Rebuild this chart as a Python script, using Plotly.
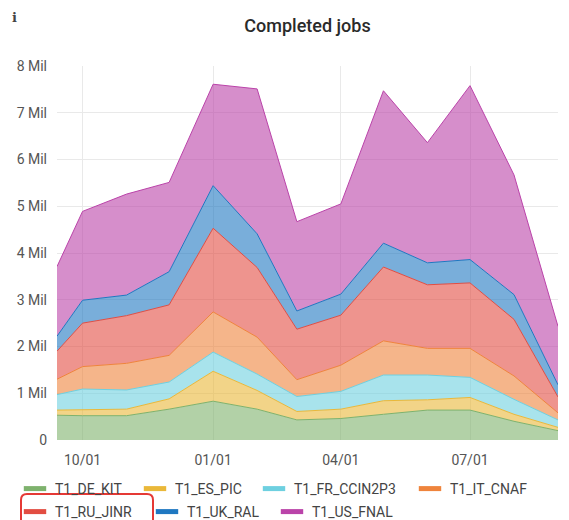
import plotly.graph_objects as go

dates = ["2022-09-13", "2022-10-01", "2022-11-01", "2022-12-01", "2023-01-01",
         "2023-02-01", "2023-03-01", "2023-04-01", "2023-05-01", "2023-06-01",
         "2023-07-01", "2023-08-01", "2023-09-01"]

t1_de_kit = [0.53, 0.52, 0.52, 0.66, 0.83, 0.66, 0.43, 0.46, 0.55, 0.64, 0.64, 0.40, 0.20]
t1_es_pic = [0.11, 0.13, 0.14, 0.22, 0.64, 0.40, 0.18, 0.20, 0.29, 0.22, 0.27, 0.15, 0.07]
t1_fr_ccin2p3 = [0.33, 0.44, 0.41, 0.36, 0.41, 0.35, 0.32, 0.38, 0.55, 0.53, 0.43, 0.32, 0.16]
t1_it_cnaf = [0.33, 0.48, 0.57, 0.57, 0.86, 0.79, 0.36, 0.56, 0.73, 0.57, 0.62, 0.50, 0.15]
t1_ru_jinr = [0.60, 0.93, 1.02, 1.08, 1.79, 1.49, 1.08, 1.07, 1.58, 1.36, 1.40, 1.21, 0.34]
t1_uk_ral = [0.32, 0.49, 0.44, 0.71, 0.91, 0.72, 0.39, 0.45, 0.51, 0.47, 0.50, 0.53, 0.26]
t1_us_fnal = [1.49, 1.90, 2.16, 1.91, 2.17, 3.10, 1.91, 1.93, 3.26, 2.57, 3.72, 2.56, 1.25]

series_names = ["T1_DE_KIT", "T1_ES_PIC", "T1_FR_CCIN2P3", "T1_IT_CNAF",
                "T1_RU_JINR", "T1_UK_RAL", "T1_US_FNAL"]
series_values = [t1_de_kit, t1_es_pic, t1_fr_ccin2p3, t1_it_cnaf,
                 t1_ru_jinr, t1_uk_ral, t1_us_fnal]
colors = ["#7EB26D", "#EAB839", "#6ED0E0", "#EF843C", "#E24D42", "#1F78C1", "#BA43A9"]

y_tick_vals = [0, 1, 2, 3, 4, 5, 6, 7, 8]
y_tick_text = ["0", "1 Mil", "2 Mil", "3 Mil", "4 Mil", "5 Mil", "6 Mil", "7 Mil", "8 Mil"]
x_tick_vals = ["2022-10-01", "2023-01-01", "2023-04-01", "2023-07-01"]
x_tick_text = ["10/01", "01/01", "04/01", "07/01"]

# Screen geometry (page pixels) of the plot area
PL, PR, PT, PB = 57, 558, 66, 440
PW, PH = PR - PL, PB - PT


def px_x(px):
    return (px - PL) / PW


def px_y(py):
    return (PB - py) / PH


def rgba(hex_color, a):
    h = hex_color.lstrip("#")
    r, g, b = int(h[0:2], 16), int(h[2:4], 16), int(h[4:6], 16)
    return f"rgba({r},{g},{b},{a})"


# legend item placement (text start x, row center y) in page pixels
legend_text_x = [53, 173, 292, 448, 53, 185, 310]
legend_row_y = [489, 489, 489, 489, 512, 512, 512]

fig = go.Figure()
for name, vals, col in zip(series_names, series_values, colors):
    fig.add_trace(go.Scatter(
        x=dates, y=[v * 1e6 for v in vals], name=name,
        mode="lines", stackgroup="one",
        line=dict(color=col, width=1),
        fillcolor=rgba(col, 0.6),
        showlegend=False, hoverinfo="skip",
    ))

legend_layouts = {}
for i, (name, col) in enumerate(zip(series_names, colors)):
    lname = "legend" if i == 0 else f"legend{i + 1}"
    fig.add_trace(go.Scatter(
        x=[None], y=[None], name=name, mode="markers",
        marker=dict(symbol="line-ew", size=18, color=col,
                    line=dict(color=col, width=5)),
        showlegend=True, legend=lname,
    ))
    legend_layouts[lname] = dict(
        orientation="h", x=px_x(legend_text_x[i] - 38), xanchor="left",
        y=px_y(legend_row_y[i]), yanchor="middle",
        itemwidth=30, bgcolor="rgba(0,0,0,0)",
        font=dict(family="Roboto", size=14, color="#444444"),
    )

# body has an 8px default margin: the figure is drawn at page offset (8, 8)
OFF = 8
FW, FH = 569 - OFF, 520 - OFF
fig.update_layout(
    width=FW, height=FH,
    margin=dict(l=PL - OFF, r=FW - (PR - OFF), t=PT - OFF, b=FH - (PB - OFF), autoexpand=False),
    paper_bgcolor="white", plot_bgcolor="white",
    font=dict(family="Roboto", size=14, color="#555555"),
    title=dict(text="Completed jobs", x=(307.5 - OFF) / FW, xanchor="center",
               y=1 - (26 - OFF) / FH, yanchor="middle",
               font=dict(family="Roboto", size=18, color="#2a2a2a", weight=500)),
    xaxis=dict(range=[dates[0], dates[-1]], tickvals=x_tick_vals, ticktext=x_tick_text,
               showgrid=True, gridcolor="#e9e9e9", gridwidth=1, zeroline=False,
               showline=False, ticks="", automargin=False, ticklabelstandoff=10,
               tickfont=dict(size=14, color="#555555")),
    yaxis=dict(range=[0, 8e6], tickvals=[v * 1e6 for v in y_tick_vals], ticktext=y_tick_text,
               showgrid=True, gridcolor="#e9e9e9", gridwidth=1, zeroline=False,
               showline=False, ticks="", ticklabelstandoff=9, automargin=False,
               tickfont=dict(size=14, color="#555555")),
    showlegend=True,
    **legend_layouts,
)

fig.add_annotation(text="<b>i</b>", xref="paper", yref="paper", x=px_x(14), y=px_y(18),
                   xanchor="center", yanchor="middle", showarrow=False,
                   font=dict(family="DejaVu Serif", size=13, color="#444444"))

# red rounded highlight box around the T1_RU_JINR legend item
x0, x1 = px_x(21), px_x(153)
y0, y1 = px_y(494), px_y(532)
rx, ry = 6 / PW, 6 / PH
path = (f"M {x0 + rx},{y0} L {x1 - rx},{y0} Q {x1},{y0} {x1},{y0 - ry} "
        f"L {x1},{y1 + ry} Q {x1},{y1} {x1 - rx},{y1} L {x0 + rx},{y1} "
        f"Q {x0},{y1} {x0},{y1 + ry} L {x0},{y0 - ry} Q {x0},{y0} {x0 + rx},{y0} Z")
fig.add_shape(type="path", path=path, xref="paper", yref="paper",
              line=dict(color="#e53935", width=2))

fig.write_html("out.html")
